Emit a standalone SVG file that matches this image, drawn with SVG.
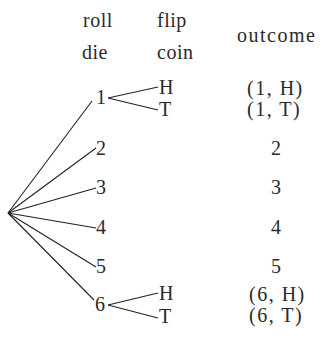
<svg xmlns="http://www.w3.org/2000/svg" width="324" height="358" viewBox="0 0 324 358">
<style>
text{font-family:"Liberation Serif","Times New Roman",serif;font-size:20px;fill:#2a2a2a;letter-spacing:0.5px}
.w{letter-spacing:1.5px}
.c line{stroke:#222;stroke-width:1.1}
</style>
<rect width="324" height="358" fill="#fff"/>
<g id="headers">
<text x="83" y="27">roll</text>
<text x="82" y="59">die</text>
<text x="157" y="27">flip</text>
<text x="157" y="59">coin</text>
<text class="w" x="237" y="42">outcome</text>
</g>
<g class="c" id="connectors">
<line x1="8" y1="213" x2="92" y2="101"/>
<line x1="8" y1="213" x2="96" y2="148"/>
<line x1="8" y1="213" x2="96" y2="188"/>
<line x1="8" y1="213" x2="96" y2="228"/>
<line x1="8" y1="213" x2="96" y2="267"/>
<line x1="8" y1="213" x2="94" y2="300"/>
<line x1="108" y1="98" x2="158" y2="87"/>
<line x1="108" y1="98" x2="158" y2="110"/>
<line x1="108" y1="305" x2="158" y2="293"/>
<line x1="108" y1="305" x2="158" y2="318"/>
</g>
<g id="n1"><text x="96" y="104">1</text></g>
<g id="n2"><text x="96" y="155">2</text></g>
<g id="n3"><text x="96" y="194">3</text></g>
<g id="n4"><text x="96" y="234">4</text></g>
<g id="n5"><text x="96" y="273">5</text></g>
<g id="n6"><text x="95" y="311">6</text></g>
<g id="h1"><text x="159" y="94">H</text></g>
<g id="t1"><text x="159" y="116">T</text></g>
<g id="h6"><text x="159" y="300">H</text></g>
<g id="t6"><text x="159" y="323">T</text></g>
<g id="outcomes">
<text class="w" x="247" y="95">(1, H)</text>
<text class="w" x="247" y="116">(1, T)</text>
<text x="271" y="155">2</text>
<text x="271" y="194">3</text>
<text x="271" y="234">4</text>
<text x="271" y="273">5</text>
<text class="w" x="249" y="301">(6, H)</text>
<text class="w" x="249" y="322">(6, T)</text>
</g>
</svg>
